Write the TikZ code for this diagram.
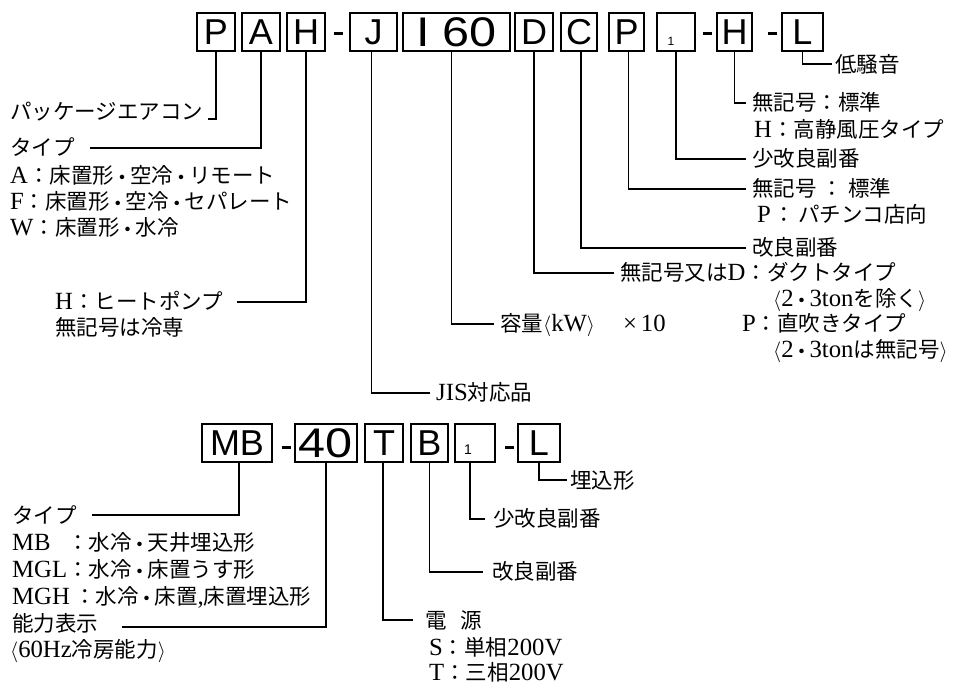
\documentclass[tikz,border=0pt]{standalone}
\usepackage{fontspec}
\usepackage{graphicx}
\setmainfont[Scale=1.15]{Liberation Serif}
\newfontfamily\jpf{Noto Sans CJK JP}
\newfontfamily\bxf{Liberation Sans}
\usetikzlibrary{calc}
\newcommand\J[1]{{\jpf #1}}
\newcommand\md{{\jpf\fontsize{16}{16}\selectfont\bfseries ・}}
\newcommand\lab{$\langle$}
\newcommand\rab{$\rangle$}
\newcommand\bxfont{\bxf\fontsize{36}{40}\selectfont}
\newcommand\lblfont{\fontsize{21.5}{26}\selectfont}
\newcommand\dg[1]{\scalebox{1.35}[1.15]{#1}}
\begin{document}
\begin{tikzpicture}[x=1pt,y=-1pt,
  bx/.style={draw, line width=1.6pt, minimum height=38pt, inner sep=0pt, font=\bxfont},
  dsh/.style={fill, minimum width=9pt, minimum height=3pt, inner sep=0pt},
  lbl/.style={anchor=west, inner sep=0pt, font=\lblfont, text height=19pt, text depth=3pt},
  ld/.style={line width=1.1pt},
  subn/.style={inner sep=0pt, font=\bxf\fontsize{12}{14}\selectfont}]
\fill[white] (0,0) rectangle (953,688);
\useasboundingbox (0,0) rectangle (953,688);
% ---------- top code ----------
\node[bx, minimum width=38pt] (bP) at (216,32) {P};
\node[bx, minimum width=38pt] (bA) at (261,32) {A};
\node[bx, minimum width=38pt] (bH) at (306,32) {H};
\node[dsh] (d1) at (338,33) {};
\node[bx, minimum width=47pt] (bJ) at (373.5,32) {J};
\node[bx, minimum width=107pt] (bI) at (456.5,32) {\dg{I}\hspace{12pt}\dg{60}};
\node[bx, minimum width=38pt] (bD) at (534,32) {D};
\node[bx, minimum width=36pt] (bC) at (579,32) {C};
\node[bx, minimum width=35pt] (bP2) at (626.5,32) {P};
\node[bx, minimum width=38pt] (b1) at (676,32) {};
\node[subn] (s1) at (671,41) {1};
\node[dsh] (d2) at (707,33) {};
\node[bx, minimum width=35pt] (bH2) at (734.5,32) {H};
\node[dsh] (d3) at (772,33) {};
\node[bx, minimum width=41pt] (bL) at (802.5,32) {L};
% ---------- top left labels ----------
\node[lbl] (tPAC) at (10,111) {\J{パッケージエアコン}};
\node[lbl] (tTy) at (10,147) {\J{タイプ}};
\node[lbl] (tA) at (10,175) {A\J{：床置形}\md\J{空冷}\md\J{リモート}};
\node[lbl] (tF) at (10,201) {F\J{：床置形}\md\J{空冷}\md\J{セパレート}};
\node[lbl] (tW) at (10,227) {W\J{：床置形}\md\J{水冷}};
\node[lbl] (tHp) at (55,301) {H\J{：ヒートポンプ}};
\node[lbl] (tHc) at (55,327) {\J{無記号は冷専}};
% ---------- top right labels ----------
\node[lbl] (tLow) at (835,64) {\J{低騒音}};
\node[lbl] (tHs) at (752,102) {\J{無記号：標準}};
\node[lbl] (tHh) at (754,129) {H\J{：高静風圧タイプ}};
\node[lbl] (t1) at (752,158) {\J{少改良副番}};
\node[lbl] (tPs) at (752,188) {\J{無記号}\hspace{5pt}\J{：}\hspace{5pt}\J{標準}};
\node[lbl] (tPp) at (757,214) {P\hspace{3pt}\J{：}\hspace{3pt}\J{パチンコ店向}};
\node[lbl] (tC) at (752,247) {\J{改良副番}};
\node[lbl] (tD) at (620,272) {\J{無記号又は}D\J{：ダクトタイプ}};
\node[lbl] (tD2) at (773,298) {\lab 2\md 3ton\J{を除く}\rab};
\node[lbl] (tD3) at (742,323) {P\J{：直吹きタイプ}};
\node[lbl] (tD4) at (773,349) {\lab 2\md 3ton\J{は無記号}\rab};
\node[lbl] (tCap) at (500,323) {\J{容量}\lab kW\rab\hspace{28pt}×\hspace{4pt}10};
\node[lbl] (tJIS) at (436,392) {JIS\J{対応品}};
% ---------- top leaders ----------
\draw[ld] (bP.south) |- ($(tPAC.east)+(5,8)$);
\draw[ld] (bA.south) |- ($(tTy.east)+(15,1)$);
\draw[ld] (bH.south) |- ($(tHp.east)+(14,1)$);
\draw[ld] ([xshift=-2pt]bJ.south) |- ($(tJIS.west)+(-6,1)$);
\draw[ld] ([xshift=-5pt]bI.south) |- ($(tCap.west)+(-6,1)$);
\draw[ld] (bD.south) |- ($(tD.west)+(-6,1)$);
\draw[ld] ([xshift=2pt]bC.south) |- ($(tC.west)+(-6,1)$);
\draw[ld] ([xshift=2pt]bP2.south) |- ($(tPs.west)+(-6,1)$);
\draw[ld] (b1.south) |- ($(t1.west)+(-6,1)$);
\draw[ld] (bH2.south) |- ($(tHs.west)+(-6,1)$);
\draw[ld] (bL.south) |- ($(tLow.west)+(-3,0)$);
% ---------- bottom code ----------
\node[bx, minimum width=70pt] (bMB) at (237,443) {MB};
\node[dsh] (d4) at (286,447) {};
\node[bx, minimum width=62pt] (b40) at (326,443) {\dg{40}};
\node[bx, minimum width=38pt] (bT) at (384,443) {T};
\node[bx, minimum width=37pt] (bB) at (429.5,443) {B};
\node[bx, minimum width=40pt] (b1b) at (475,443) {};
\node[subn, font=\bxf\fontsize{14}{16}\selectfont] (s1b) at (468,450) {1};
\node[dsh] (d5) at (509,447) {};
\node[bx, minimum width=42pt] (bLb) at (539,443) {L};
% ---------- bottom labels ----------
\node[lbl] (tTy2) at (12,515) {\J{タイプ}};
\node[lbl] (tMB) at (12,542) {\rlap{MB}\phantom{MGL}\J{：水冷}\md\J{天井埋込形}};
\node[lbl] (tMGL) at (12,569) {MGL\J{：水冷}\md\J{床置うす形}};
\node[lbl] (tMGH) at (12,596) {MGH\,\J{：水冷}\md\J{床置},\J{床置埋込形}};
\node[lbl] (tAb) at (12,623) {\J{能力表示}};
\node[lbl] (t60) at (10,649) {\lab 60Hz\J{冷房能力}\rab};
\node[lbl] (tUm) at (570,480) {\J{埋込形}};
\node[lbl] (t1b) at (493,518) {\J{少改良副番}};
\node[lbl] (tBb) at (492,571) {\J{改良副番}};
\node[lbl] (tPw) at (425,620) {\J{電}\hspace{14pt}\J{源}};
\node[lbl] (tS) at (429,647) {S\J{：単相}200V};
\node[lbl] (tT) at (429,672) {T\J{：三相}200V};
% ---------- bottom leaders ----------
\draw[ld] ([xshift=2pt]bMB.south) |- ($(tTy2.east)+(15,0)$);
\draw[ld] (b40.south) |- ($(tAb.east)+(24,4)$);
\draw[ld] ([xshift=-1pt]bT.south) |- ($(tPw.west)+(-12,0)$);
\draw[ld] (bB.south) |- ($(tBb.west)+(-9,1)$);
\draw[ld] ([xshift=-5pt]b1b.south) |- ($(t1b.west)+(-8,1)$);
\draw[ld] (bLb.south) |- ($(tUm.west)+(-3,0)$);
\end{tikzpicture}
\end{document}
